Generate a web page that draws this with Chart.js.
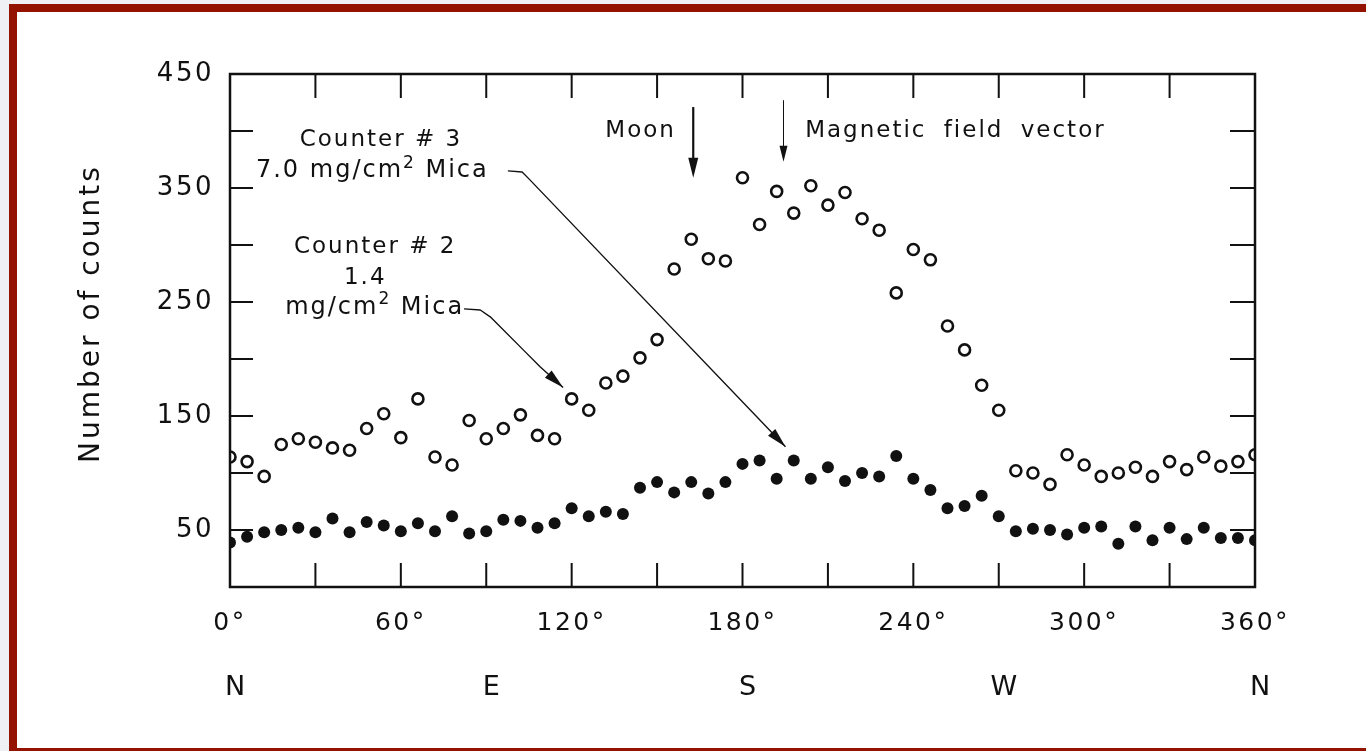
<!DOCTYPE html>
<html>
<head>
<meta charset="utf-8">
<title>Number of counts vs azimuth</title>
<script src="https://cdn.jsdelivr.net/npm/chart.js@4.4.0/dist/chart.umd.min.js"></script>
<style>
  html, body { margin: 0; padding: 0; overflow: hidden; background: #eef0f4; }
  #frame { position: absolute; left: 9px; top: 4px; width: 1400px; height: 736px; border: 8px solid #941300; background: #fff; }
  #wrap { position: absolute; left: 0; top: 0; width: 1366px; height: 751px; }
</style>
</head>
<body>
<div id="frame"></div>
<div id="wrap"><canvas id="countsChart"></canvas></div>
<script>
// azimuth of each reading (degrees)
const angles = [0, 6, 12, 18, 24, 30, 36, 42, 48, 54, 60, 66, 72, 78, 84, 90, 96, 102, 108, 114,
  120, 126, 132, 138, 144, 150, 156, 162, 168, 174, 180, 186, 192, 198, 204, 210, 216, 222, 228, 234,
  240, 246, 252, 258, 264, 270, 276, 282, 288, 294, 300, 306, 312, 318, 324, 330, 336, 342, 348, 354, 360];

// Counter #2, 1.4 mg/cm2 mica (open circles)
const counter2 = [114, 110, 97, 125, 130, 127, 122, 120, 139, 152, 131, 165, 114, 107, 146, 130, 139, 151, 133, 130,
  165, 155, 179, 185, 201, 217, 279, 305, 288, 286, 359, 318, 347, 328, 352, 335, 346, 323, 313, 258,
  296, 287, 229, 208, 177, 155, 102, 100, 90, 116, 107, 97, 100, 105, 97, 110, 103, 114, 106, 110, 116];

// Counter #3, 7.0 mg/cm2 mica (filled circles)
const counter3 = [39, 44, 48, 50, 52, 48, 60, 48, 57, 54, 49, 56, 49, 62, 47, 49, 59, 58, 52, 56,
  69, 62, 66, 64, 87, 92, 83, 92, 82, 92, 108, 111, 95, 111, 95, 105, 93, 100, 97, 115,
  95, 85, 69, 71, 80, 62, 49, 51, 50, 46, 52, 53, 38, 53, 41, 52, 42, 52, 43, 43, 41];

const yLabelValues = [450, 350, 250, 150, 50];
const compassNames = ['N', 'E', 'S', 'W', 'N'];
const compassAngles = [0, 90, 180, 270, 360];

const FONT = '"DejaVu Sans", sans-serif';
const INK = '#111111';

function toPoints(ys) {
  return angles.map((a, i) => ({ x: a, y: ys[i] }));
}

function arrowHead(ctx, from, tip, len, half) {
  const ang = Math.atan2(tip.y - from.y, tip.x - from.x);
  ctx.beginPath();
  ctx.moveTo(tip.x, tip.y);
  ctx.lineTo(tip.x - len * Math.cos(ang) + half * Math.sin(ang), tip.y - len * Math.sin(ang) - half * Math.cos(ang));
  ctx.lineTo(tip.x - len * Math.cos(ang) - half * Math.sin(ang), tip.y - len * Math.sin(ang) + half * Math.cos(ang));
  ctx.closePath();
  ctx.fill();
}

// text with a raised small "2", centred on x
function richText(ctx, parts, x, y, size) {
  const big = size + 'px ' + FONT, small = Math.round(size * 0.72) + 'px ' + FONT;
  let total = 0;
  parts.forEach(p => { ctx.font = p.sup ? small : big; total += ctx.measureText(p.t).width; });
  let cx = x - total / 2;
  ctx.textAlign = 'left';
  parts.forEach(p => {
    ctx.font = p.sup ? small : big;
    ctx.fillText(p.t, cx, p.sup ? y - size * 0.32 : y);
    cx += ctx.measureText(p.t).width;
  });
}

// frame, inward ticks, titles and the hand lettered notes
const decorPlugin = {
  id: 'decor',
  beforeDraw(chart) {
    chart.ctx.letterSpacing = '2.5px';
  },
  afterDraw(chart) {
    const { ctx, chartArea: ca } = chart;
    const xs = chart.scales.x, ys = chart.scales.y;
    const P = (d, v) => ({ x: xs.getPixelForValue(d), y: ys.getPixelForValue(v) });
    ctx.save();
    ctx.strokeStyle = INK;
    ctx.fillStyle = INK;

    // box
    ctx.lineWidth = 2.5;
    ctx.strokeRect(ca.left, ca.top, ca.right - ca.left, ca.bottom - ca.top);

    // inward ticks
    ctx.lineWidth = 2;
    for (let d = 30; d < 360; d += 30) {
      const x = xs.getPixelForValue(d);
      ctx.beginPath();
      ctx.moveTo(x, ca.bottom); ctx.lineTo(x, ca.bottom - 24);
      ctx.moveTo(x, ca.top); ctx.lineTo(x, ca.top + 24);
      ctx.stroke();
    }
    for (let v = 50; v < 450; v += 50) {
      const y = ys.getPixelForValue(v);
      ctx.beginPath();
      ctx.moveTo(ca.left, y); ctx.lineTo(ca.left + 23, y);
      ctx.moveTo(ca.right, y); ctx.lineTo(ca.right - 25, y);
      ctx.stroke();
    }

    // y title
    ctx.save();
    ctx.letterSpacing = '3px';
    ctx.font = '28px ' + FONT;
    ctx.textAlign = 'center';
    ctx.textBaseline = 'middle';
    ctx.translate(ca.left - 138, (ca.top + ca.bottom) / 2 - 17);
    ctx.rotate(-Math.PI / 2);
    ctx.fillText('Number of counts', 0, 0);
    ctx.restore();

    // compass points
    ctx.letterSpacing = '0px';
    ctx.font = '27px ' + FONT;
    ctx.textAlign = 'center';
    ctx.textBaseline = 'middle';
    compassAngles.forEach((a, i) => {
      ctx.fillText(compassNames[i], xs.getPixelForValue(a) + 5, ca.bottom + 101);
    });

    // notes
    ctx.letterSpacing = '2px';
    ctx.textBaseline = 'middle';
    ctx.font = '23px ' + FONT;
    ctx.textAlign = 'center';
    let p = P(53, 392);
    ctx.fillText('Counter # 3', p.x, p.y);
    p = P(50, 365);
    richText(ctx, [{ t: '7.0 mg/cm' }, { t: '2', sup: true }, { t: ' Mica' }], p.x, p.y, 24);
    ctx.font = '23px ' + FONT;
    ctx.textAlign = 'center';
    p = P(51, 298);
    ctx.fillText('Counter # 2', p.x, p.y);
    p = P(47.5, 271);
    ctx.fillText('1.4', p.x, p.y);
    p = P(50.8, 245);
    richText(ctx, [{ t: 'mg/cm' }, { t: '2', sup: true }, { t: ' Mica' }], p.x, p.y, 24);
    ctx.font = '23px ' + FONT;
    ctx.textAlign = 'right';
    p = P(156.6, 400);
    ctx.fillText('Moon', p.x, p.y);
    ctx.textAlign = 'left';
    ctx.wordSpacing = '8px';
    p = P(202, 400);
    ctx.fillText('Magnetic field vector', p.x, p.y);
    ctx.wordSpacing = '0px';

    // Moon arrow
    let a = P(162.7, 421), b = P(162.7, 359);
    ctx.lineWidth = 2.2;
    ctx.beginPath(); ctx.moveTo(a.x, a.y); ctx.lineTo(b.x, b.y - 10); ctx.stroke();
    arrowHead(ctx, a, b, 20, 5);

    // magnetic field arrow
    a = P(194.4, 427); b = P(194.4, 373);
    ctx.lineWidth = 1;
    ctx.beginPath(); ctx.moveTo(a.x, a.y); ctx.lineTo(b.x, b.y - 8); ctx.stroke();
    arrowHead(ctx, a, b, 16, 4);

    // leader for counter 3
    ctx.lineWidth = 1.4;
    ctx.lineJoin = 'round';
    let pts = [[97.6, 365], [102.6, 364], [105, 358], [195.1, 123]].map(q => P(q[0], q[1]));
    ctx.beginPath();
    ctx.moveTo(pts[0].x, pts[0].y);
    pts.slice(1).forEach(q => ctx.lineTo(q.x, q.y));
    ctx.stroke();
    arrowHead(ctx, pts[2], pts[3], 20, 5);

    // leader for counter 2
    pts = [[82.2, 244], [87.9, 243], [91.4, 237], [103, 208], [109, 193], [117, 175]].map(q => P(q[0], q[1]));
    ctx.beginPath();
    ctx.moveTo(pts[0].x, pts[0].y);
    pts.slice(1).forEach(q => ctx.lineTo(q.x, q.y));
    ctx.stroke();
    arrowHead(ctx, pts[4], pts[5], 20, 5);

    ctx.restore();
  }
};

const ctx = document.getElementById('countsChart').getContext('2d');
new Chart(ctx, {
  type: 'scatter',
  data: {
    datasets: [
      {
        label: 'Counter # 2, 1.4 mg/cm2 Mica',
        data: toPoints(counter2),
        pointStyle: 'circle',
        pointRadius: 5.5,
        pointBorderWidth: 2.6,
        borderColor: INK,
        backgroundColor: '#ffffff'
      },
      {
        label: 'Counter # 3, 7.0 mg/cm2 Mica',
        data: toPoints(counter3),
        pointStyle: 'circle',
        pointRadius: 6,
        pointBorderWidth: 0,
        borderColor: INK,
        backgroundColor: INK
      }
    ]
  },
  options: {
    responsive: true,
    maintainAspectRatio: false,
    animation: false,
    layout: { padding: { left: 0, right: 111, top: 74, bottom: 0 } },
    plugins: {
      legend: { display: false },
      tooltip: { enabled: false }
    },
    scales: {
      x: {
        type: 'linear',
        min: 0,
        max: 360,
        grid: { display: false, drawTicks: false },
        border: { display: false },
        afterFit: s => { s.height = 164; },
        ticks: {
          stepSize: 60,
          padding: 21,
          color: INK,
          font: { family: FONT, size: 25 },
          callback: v => v + '\u00B0'
        }
      },
      y: {
        type: 'linear',
        min: 0,
        max: 450,
        grid: { display: false, drawTicks: false },
        border: { display: false },
        afterFit: s => { s.width = 230; },
        ticks: {
          stepSize: 50,
          autoSkip: false,
          padding: 16,
          color: INK,
          font: { family: FONT, size: 26 },
          callback: v => yLabelValues.includes(v) ? v : ''
        }
      }
    }
  },
  plugins: [decorPlugin]
});
</script>
</body>
</html>
